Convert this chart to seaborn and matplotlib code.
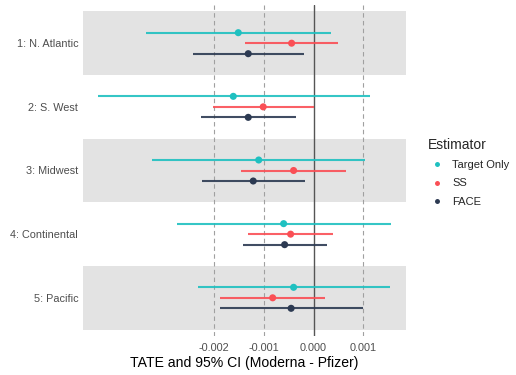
import numpy as np
import pandas as pd
import matplotlib
matplotlib.use("Agg")
import matplotlib.pyplot as plt
import seaborn as sns

regions = ["1: N. Atlantic", "2: S. West", "3: Midwest", "4: Continental", "5: Pacific"]
estimators = ["Target Only", "SS", "FACE"]

target_est = [-0.00151, -0.00161, -0.00110, -0.00060, -0.00040]
target_lo = [-0.00337, -0.00433, -0.00325, -0.00274, -0.00231]
target_hi = [0.00036, 0.00114, 0.00104, 0.00156, 0.00153]

ss_est = [-0.00044, -0.00101, -0.00040, -0.00046, -0.00082]
ss_lo = [-0.00137, -0.00202, -0.00146, -0.00131, -0.00187]
ss_hi = [0.00050, 0.00000, 0.00066, 0.00040, 0.00023]

face_est = [-0.00131, -0.00131, -0.00121, -0.00058, -0.00045]
face_lo = [-0.00241, -0.00226, -0.00224, -0.00142, -0.00187]
face_hi = [-0.00019, -0.00035, -0.00017, 0.00026, 0.00099]

x_ticks = [-0.002, -0.001, 0.000, 0.001]
x_ticklabels = ["-0.002", "-0.001", "0.000", "0.001"]

colors = {"Target Only": "#1fc0c0", "SS": "#fa4f55", "FACE": "#2c3a52"}
dodge = {"Target Only": -0.165, "SS": 0.0, "FACE": 0.165}

rows = []
for name, est, lo, hi in [("Target Only", target_est, target_lo, target_hi),
                          ("SS", ss_est, ss_lo, ss_hi),
                          ("FACE", face_est, face_lo, face_hi)]:
    for i, r in enumerate(regions):
        rows.append(dict(region=r, estimator=name, est=est[i], lo=lo[i], hi=hi[i],
                         ypos=i + dodge[name]))
df = pd.DataFrame(rows)

sns.set_theme(style="white")
plt.rcParams["font.family"] = ["Liberation Sans", "DejaVu Sans"]

fig = plt.figure(figsize=(5.16, 3.75), dpi=100)
ax = fig.add_axes([83/516, 1 - 336/375, (406-83)/516, (336-5)/375])

for i in range(len(regions)):
    if i % 2 == 0:
        ax.axhspan(i - 0.5, i + 0.5, color="#e3e3e3", lw=0, zorder=0)

for xv in x_ticks:
    if xv == 0:
        ax.axvline(xv, color="#555555", lw=1.0, zorder=1)
    else:
        ax.axvline(xv, color="#a0a0a0", lw=0.8, ls=(0, (4, 3)), zorder=1)

for name in estimators:
    sub = df[df.estimator == name]
    ax.hlines(sub.ypos, sub.lo, sub.hi, color=colors[name], lw=1.5, zorder=2, alpha=0.9)

sns.scatterplot(data=df, x="est", y="ypos", hue="estimator", hue_order=estimators,
                palette=colors, s=26, edgecolor="none", ax=ax, zorder=3)

data_min = df.lo.min(); data_max = df.hi.max(); rng = data_max - data_min
ax.set_xlim(data_min - 0.05 * rng, data_max + 0.05 * rng)
ax.set_ylim(len(regions) - 0.4, -0.6)
ax.set_yticks(range(len(regions)))
ax.set_yticklabels(regions)
ax.set_xticks(x_ticks)
ax.set_xticklabels(x_ticklabels)
ax.tick_params(axis="both", length=0, labelsize=7.8, labelcolor="#4d4d4d")
ax.tick_params(axis="y", pad=3.5)
ax.tick_params(axis="x", pad=5)
ax.set_ylabel("")
ax.set_xlabel("TATE and 95% CI (Moderna - Pfizer)", fontsize=10.1, color="black", labelpad=2.5)
for s in ax.spines.values():
    s.set_visible(False)

handles, labels = ax.get_legend_handles_labels()
ax.legend_.remove()
leg = fig.legend(handles, labels, title="Estimator", loc="upper left",
                 bbox_to_anchor=(420/516, 1 - 130/375), frameon=False,
                 fontsize=8, title_fontsize=10, handlelength=1.6, handletextpad=0.6,
                 labelspacing=0.75, markerscale=0.7, borderpad=0.2)
leg._legend_box.align = "left"

fig.savefig("out.png", dpi=100)
